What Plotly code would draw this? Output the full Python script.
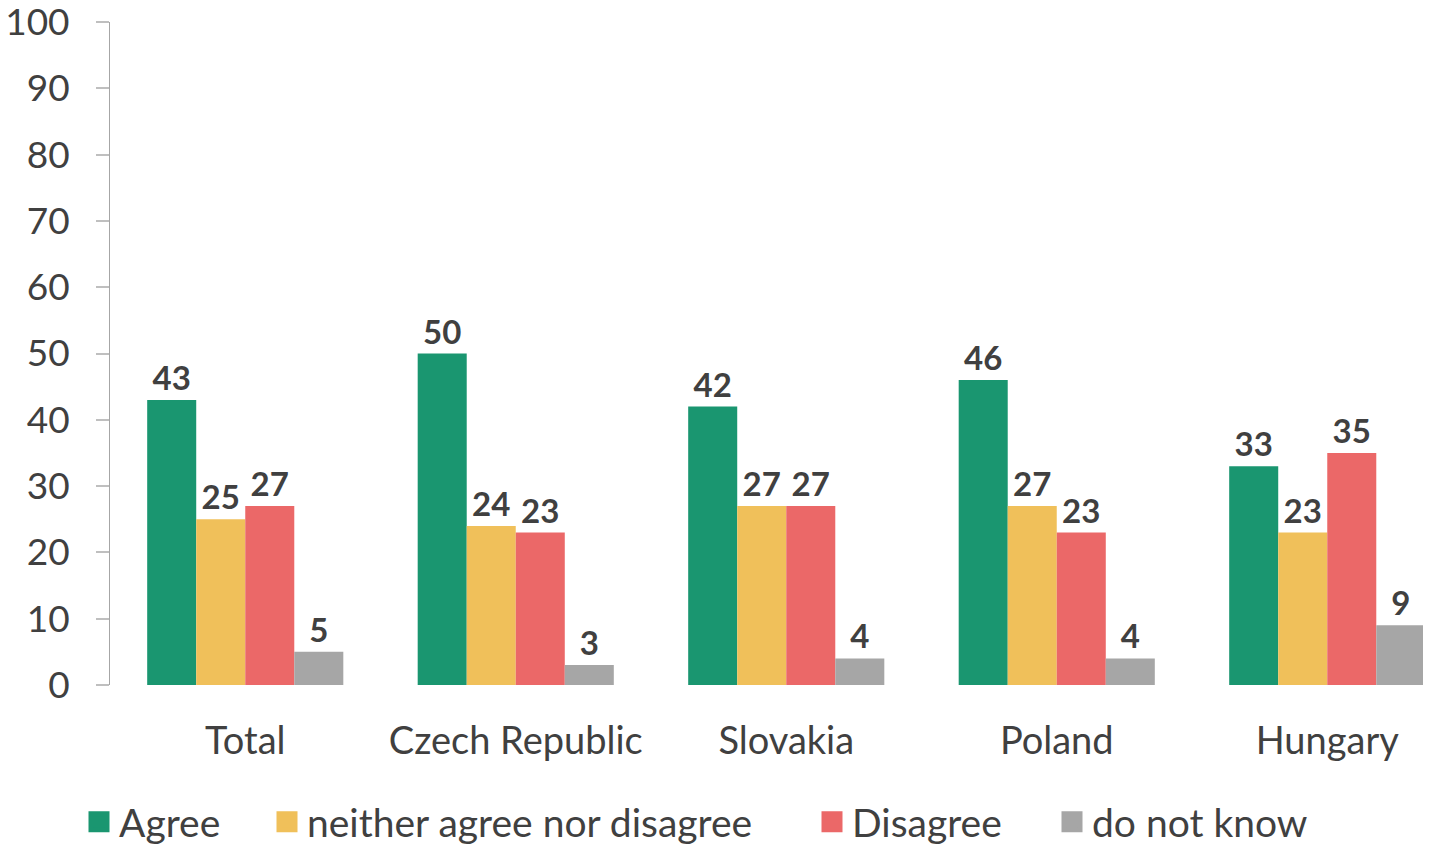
import plotly.graph_objects as go

categories = ["Total", "Czech Republic", "Slovakia", "Poland", "Hungary"]
series_names = ["Agree", "neither agree nor disagree", "Disagree", "do not know"]
agree = [43, 50, 42, 46, 33]
neither = [25, 24, 27, 27, 23]
disagree = [27, 23, 27, 23, 35]
dont_know = [5, 3, 4, 4, 9]
colors = ["#1A9670", "#F0C05A", "#EB6868", "#A6A6A6"]
y_ticks = list(range(0, 101, 10))
legend_x_px = [79, 267, 812, 1052]

FONT = "Lato"
TXT = "#404040"
W, H = 1431, 845
L, R, T = 102, 0, 14
plot_bottom = 677
B = H - plot_bottom
plot_w = W - L - R
plot_h = plot_bottom - T

fig = go.Figure()
legend_ids = ["legend", "legend2", "legend3", "legend4"]
for name, vals, col, lid in zip(series_names, [agree, neither, disagree, dont_know], colors, legend_ids):
    fig.add_trace(go.Bar(
        x=categories, y=vals, name=name, marker=dict(color=col, line=dict(width=0)),
        text=[str(v) for v in vals], textposition="outside", constraintext="none",
        textfont=dict(family=FONT, size=33, color=TXT, weight="bold"),
        cliponaxis=False, showlegend=False,
    ))
    fig.add_trace(go.Scatter(
        x=[None], y=[None], mode="markers", name=name, legend=lid,
        marker=dict(symbol="square", size=16, color=col, line=dict(color=col, width=5)),
        showlegend=True,
    ))

leg_y = -(814 - plot_bottom) / plot_h
legend_common = dict(orientation="h", yanchor="middle", y=leg_y, xanchor="left",
                     font=dict(family=FONT, size=39, color=TXT), itemwidth=30,
                     bgcolor="rgba(0,0,0,0)")
layout_legends = {}
for lid, px in zip(legend_ids, legend_x_px):
    layout_legends[lid] = dict(legend_common, x=(px - 8 - L) / plot_w)

cat_w = 270.5
x_end = -0.5 + plot_w / cat_w

fig.update_layout(
    width=W, height=H,
    margin=dict(l=L, r=R, t=T, b=B, autoexpand=False),
    paper_bgcolor="white", plot_bgcolor="white",
    barmode="group", bargap=0.275, bargroupgap=0,
    font=dict(family=FONT, size=37, color=TXT),
    xaxis=dict(showline=False, ticks="", showgrid=False, ticklabelstandoff=30,
               range=[-0.5, x_end], automargin=False,
               tickfont=dict(family=FONT, size=38, color=TXT)),
    yaxis=dict(range=[0, 100], tickvals=y_ticks, showgrid=False, zeroline=False,
               showline=True, linecolor="#A6A6A6", linewidth=1, automargin=False,
               ticks="outside", ticklen=13, tickcolor="#BFBFBF", tickwidth=2,
               ticklabelstandoff=19, ticklabeloverflow="allow",
               tickfont=dict(family=FONT, size=37, color=TXT)),
    **layout_legends,
)

fig.write_html("out.html")
